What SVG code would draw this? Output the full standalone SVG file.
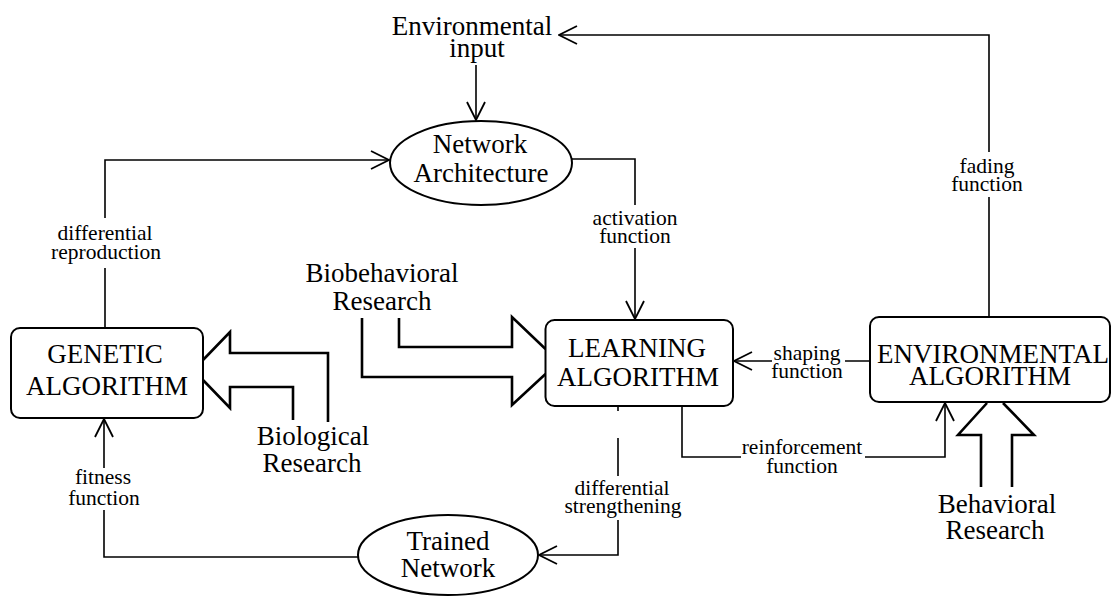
<svg xmlns="http://www.w3.org/2000/svg" width="1112" height="596" viewBox="0 0 1112 596">
<style>
text{font-family:"Liberation Serif","Times New Roman",serif;fill:#000;text-anchor:middle}
.big{font-size:27px}
.lab{font-size:21.5px}
.box{fill:#fff;stroke:#000;stroke-width:2}
.con{fill:none;stroke:#000;stroke-width:1.6}
.blk{fill:none;stroke:#000;stroke-width:2.6;stroke-linejoin:miter}
</style>
<defs>
<marker id="ah" viewBox="0 0 20 20" refX="19" refY="10" markerWidth="20" markerHeight="20" markerUnits="userSpaceOnUse" orient="auto">
<path d="M1,1 L19,10 L1,19" fill="none" stroke="#000" stroke-width="1.8"/>
</marker>
</defs>
<rect width="1112" height="596" fill="#fff"/>
<g id="connectors">
<path class="con" d="M476,65 V120" marker-end="url(#ah)"/>
<path class="con" d="M105,328 V268 M105,218 V160 H389" marker-end="url(#ah)"/>
<path class="con" d="M568,159 H635 V205 M635,248 V319" marker-end="url(#ah)"/>
<path class="con" d="M989,317 V197 M989,152 V35 H559" marker-end="url(#ah)"/>
<path class="con" d="M870,361 H845 M772,361 H734" marker-end="url(#ah)"/>
<path class="con" d="M682,406 V457 H741 M865,457 H945 V403" marker-end="url(#ah)"/>
<path class="con" d="M618,406 V411 M618,438 V476 M618,520 V555 H539" marker-end="url(#ah)"/>
<path class="con" d="M358,557 H104 V510 M104,468 V419" marker-end="url(#ah)"/>
<path class="blk" d="M328,422 V353 H230 V332 L203,360 M203,380 L230,408 V387 H293 V420"/>
<path class="blk" d="M399,318 V347 H512 V317 L545.5,349 M545.5,374 L512,405 V377 H362 V318"/>
<path class="blk" d="M981,487 V435 H958 L987,403 M1003,403 L1034,435 H1012 V487"/>
<text class="lab" x="105" y="240">differential</text>
<text class="lab" x="106" y="259">reproduction</text>
<text class="lab" x="635" y="225">activation</text>
<text class="lab" x="635" y="243">function</text>
<text class="lab" x="987" y="173">fading</text>
<text class="lab" x="987" y="191">function</text>
<text class="lab" x="807" y="360">shaping</text>
<text class="lab" x="807" y="378">function</text>
<text class="lab" x="802" y="454">reinforcement</text>
<text class="lab" x="802" y="473">function</text>
<text class="lab" x="622" y="495">differential</text>
<text class="lab" x="623" y="513">strengthening</text>
<text class="lab" x="103" y="484">fitness</text>
<text class="lab" x="104" y="505">function</text>
</g>
<g id="env-input">
<text class="big" x="472" y="35">Environmental</text>
<text class="big" x="477" y="57">input</text>
</g>
<g id="network-architecture">
<ellipse class="box" cx="481" cy="163" rx="91" ry="42"/>
<text class="big" x="480" y="153">Network</text>
<text class="big" x="481" y="182">Architecture</text>
</g>
<g id="genetic-algorithm">
<rect class="box" x="11" y="328" width="192" height="90" rx="9"/>
<text class="big" x="105" y="363">GENETIC</text>
<text class="big" x="107" y="395">ALGORITHM</text>
</g>
<g id="learning-algorithm">
<rect class="box" x="545.5" y="320" width="187.5" height="86" rx="9"/>
<text class="big" x="637" y="357">LEARNING</text>
<text class="big" x="638" y="386">ALGORITHM</text>
</g>
<g id="environmental-algorithm">
<rect class="box" x="870" y="317" width="240" height="85" rx="9"/>
<text class="big" x="993" y="363">ENVIRONMENTAL</text>
<text class="big" x="990" y="385">ALGORITHM</text>
</g>
<g id="trained-network">
<ellipse class="box" cx="448" cy="555" rx="90" ry="40"/>
<text class="big" x="448" y="550">Trained</text>
<text class="big" x="448" y="577">Network</text>
</g>
<g id="biological-research">
<text class="big" x="313" y="445">Biological</text>
<text class="big" x="312" y="472">Research</text>
</g>
<g id="biobehavioral-research">
<text class="big" x="382" y="282">Biobehavioral</text>
<text class="big" x="382" y="310">Research</text>
</g>
<g id="behavioral-research">
<text class="big" x="997" y="513">Behavioral</text>
<text class="big" x="995" y="539">Research</text>
</g>
</svg>
